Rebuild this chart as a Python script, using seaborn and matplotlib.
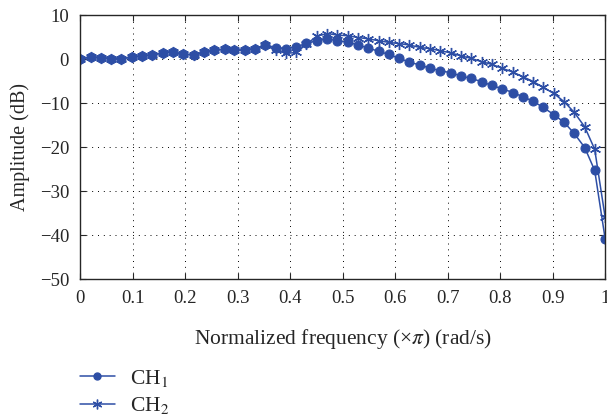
import numpy as np
import seaborn as sns
import matplotlib.pyplot as plt

# normalized frequency (x pi), 52 samples
freq = [0.000, 0.020, 0.039, 0.059, 0.078, 0.098, 0.118, 0.137, 0.157, 0.176,
        0.196, 0.216, 0.235, 0.255, 0.275, 0.294, 0.314, 0.333, 0.353, 0.373,
        0.392, 0.412, 0.431, 0.451, 0.471, 0.490, 0.510, 0.529, 0.549, 0.569,
        0.588, 0.608, 0.627, 0.647, 0.667, 0.686, 0.706, 0.725, 0.745, 0.765,
        0.784, 0.804, 0.824, 0.843, 0.863, 0.882, 0.902, 0.922, 0.941, 0.961,
        0.980, 1.000]

ch1 = [0.0, 0.45, 0.3, 0.1, 0.1, 0.4, 0.75, 0.9, 1.4, 1.65,
       1.05, 1.0, 1.5, 2.05, 2.2, 2.05, 2.05, 2.35, 3.2, 2.6,
       2.4, 2.8, 3.55, 4.2, 4.6, 4.15, 3.85, 3.2, 2.5, 1.75,
       1.05, 0.15, -0.7, -1.35, -2.1, -2.65, -3.1, -3.85, -4.4, -5.15,
       -6.0, -6.75, -7.6, -8.55, -9.6, -11.0, -12.6, -14.4, -16.9, -20.1,
       -25.3, -40.9]

ch2 = [0.0, 0.45, 0.3, 0.1, 0.1, 0.4, 0.75, 0.9, 1.4, 1.65,
       1.05, 1.0, 1.5, 2.05, 2.2, 2.05, 2.05, 2.35, 3.1, 2.05,
       1.3, 1.5, 3.4, 5.2, 5.8, 5.45, 5.3, 4.9, 4.6, 4.15,
       3.8, 3.5, 3.2, 2.65, 2.35, 1.9, 1.4, 0.75, 0.15, -0.6,
       -1.2, -2.1, -2.95, -4.0, -5.1, -6.45, -7.8, -9.7, -12.1, -15.4,
       -20.5, -36.0]

labels = ['CH$_1$', 'CH$_2$']
xticklabels = ['0', '0.1', '0.2', '0.3', '0.4', '0.5', '0.6', '0.7', '0.8', '0.9', '1']
yticklabels = ['\u221250', '\u221240', '\u221230', '\u221220', '\u221210', '0', '10']

sns.set_style('ticks')
plt.rcParams['font.family'] = ['Liberation Serif', 'DejaVu Serif']
plt.rcParams['mathtext.fontset'] = 'stix'

blue = '#2d4ea5'
star = (6, 2, 0)

fig = plt.figure(figsize=(6.07, 4.19), dpi=100)
ax = fig.add_axes([0.132, 0.334, 0.865, 0.630])

sns.lineplot(x=freq, y=ch1, color=blue, marker='o', markersize=6.5,
             markeredgecolor=blue, linewidth=1.1, ax=ax)
sns.lineplot(x=freq, y=ch2, color=blue, marker=star, markersize=8,
             markeredgecolor=blue, markeredgewidth=1.0, linewidth=1.1, ax=ax)

ax.set_xlim(0, 1)
ax.set_ylim(-50, 10)
ax.set_xticks(np.arange(0, 1.01, 0.1))
ax.set_xticklabels(xticklabels)
ax.set_yticks(np.arange(-50, 11, 10))
ax.set_yticklabels(yticklabels)
ax.grid(True, color='black', linestyle=(0, (1, 5)), linewidth=0.7)
ax.tick_params(direction='in', top=True, right=True, length=4, width=0.8,
               labelsize=13.5, pad=8)
for s in ax.spines.values():
    s.set_linewidth(1.0)
ax.set_xlabel('Normalized frequency (\u00d7$\\pi$) (rad/s)', fontsize=15.5, labelpad=14)
ax.set_ylabel('Amplitude (dB)', fontsize=14.5, labelpad=7)

h1 = plt.Line2D([], [], color=blue, marker='o', markersize=5, linewidth=1.1)
h2 = plt.Line2D([], [], color=blue, marker=star, markersize=7, linewidth=1.1)
fig.legend([h1, h2], labels, loc='upper left', bbox_to_anchor=(0.132, 0.122),
           frameon=False, fontsize=15.5, handlelength=1.6, handletextpad=0.7,
           labelspacing=0.3, borderpad=0, borderaxespad=0)

fig.savefig('out.png', dpi=100)
